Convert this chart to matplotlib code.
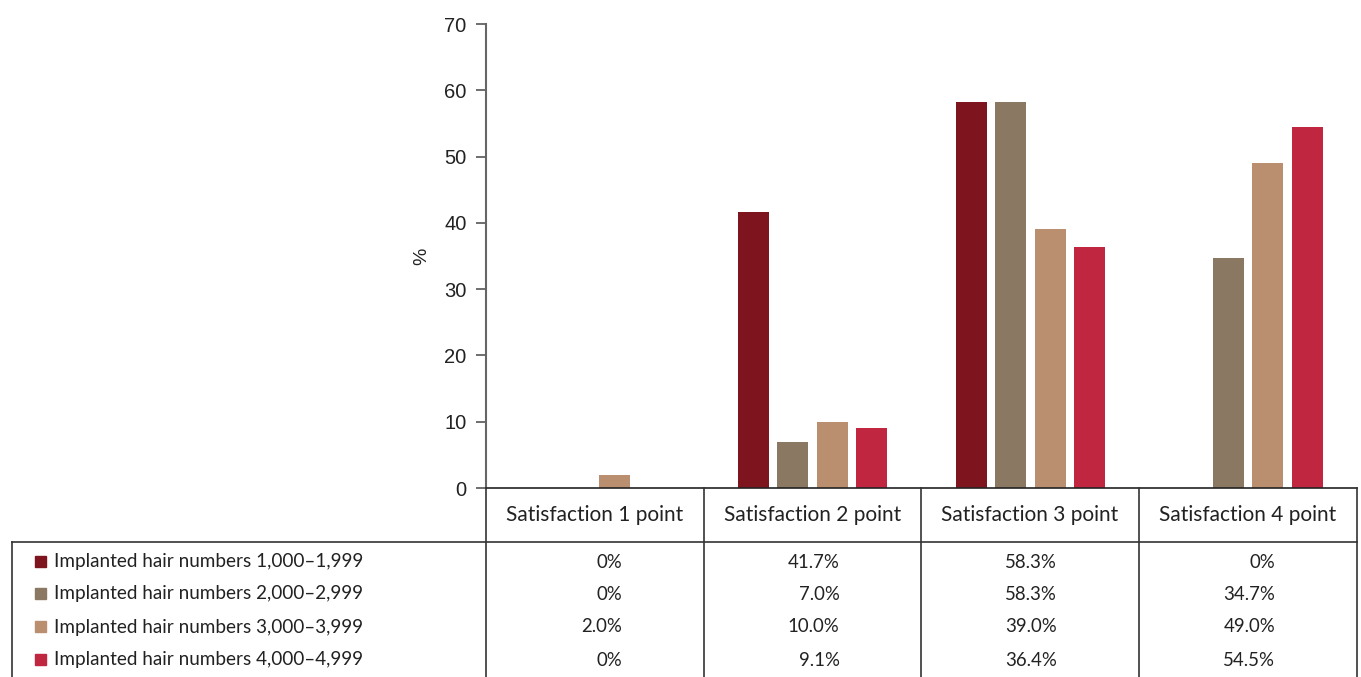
import numpy as np
import matplotlib.pyplot as plt
from matplotlib.lines import Line2D
from matplotlib.patches import Rectangle

# data
categories = ["Satisfaction 1 point", "Satisfaction 2 point",
              "Satisfaction 3 point", "Satisfaction 4 point"]
series_names = ["Implanted hair numbers 1,000\u20131,999",
                "Implanted hair numbers 2,000\u20132,999",
                "Implanted hair numbers 3,000\u20133,999",
                "Implanted hair numbers 4,000\u20134,999"]
hair_1000 = [0, 41.7, 58.3, 0]
hair_2000 = [0, 7.0, 58.3, 34.7]
hair_3000 = [2.0, 10.0, 39.0, 49.0]
hair_4000 = [0, 9.1, 36.4, 54.5]
values = [hair_1000, hair_2000, hair_3000, hair_4000]
labels = [["0%", "41.7%", "58.3%", "0%"],
          ["0%", "7.0%", "58.3%", "34.7%"],
          ["2.0%", "10.0%", "39.0%", "49.0%"],
          ["0%", "9.1%", "36.4%", "54.5%"]]
colors = ["#7e141e", "#8a7862", "#b98f70", "#c0263f"]

W, H = 1361, 677
fig = plt.figure(figsize=(W / 100, H / 100), dpi=100)

def fx(px):
    return px / W

def fy(py):
    return 1 - py / H

left, right, top, bottom = 486, 1357, 24, 488
ax = fig.add_axes([fx(left), fy(bottom), fx(right - left), (bottom - top) / H])

x = np.arange(len(categories))
width = 0.143
step = 0.181
for i, vals in enumerate(values):
    ax.bar(x + (i - 1.5) * step, vals, width, color=colors[i], zorder=2)

ax.set_xlim(-0.5, 3.5)
ax.set_ylim(0, 70)
ax.set_yticks(range(0, 71, 10))
ax.set_xticks([])
for s in ["top", "right"]:
    ax.spines[s].set_visible(False)
ax.spines["left"].set_color("#666666")
ax.spines["left"].set_linewidth(1.5)
ax.spines["bottom"].set_color("#222222")
ax.spines["bottom"].set_linewidth(1.2)
ax.tick_params(axis="y", length=7, width=1.2, color="#555555", pad=7,
               labelsize=14.5, labelcolor="#222222")
for t in ax.get_yticklabels():
    t.set_fontfamily("Liberation Sans")
ax.set_ylabel("%", fontsize=14, fontfamily="Liberation Sans", color="#222222",
              labelpad=10)

# table
lc = "#333333"
col_edges = [486, 704, 921, 1139, 1357]
fig.add_artist(Line2D([fx(12), fx(1357)], [fy(542), fy(542)], color=lc, lw=1.2))
fig.add_artist(Line2D([fx(12), fx(12)], [fy(542), fy(677)], color=lc, lw=1.2))
for e in col_edges:
    fig.add_artist(Line2D([fx(e), fx(e)], [fy(488), fy(677)], color=lc, lw=1.2))

tfont = "Lato"
for j, c in enumerate(categories):
    cx = (col_edges[j] + col_edges[j + 1]) / 2
    fig.text(fx(cx), fy(515), c, ha="center", va="center", fontsize=15,
             fontfamily=tfont, color="#222222")

row_y = [562, 594, 627, 660]
for i, name in enumerate(series_names):
    fig.add_artist(Rectangle((fx(35), fy(row_y[i] + 5)), fx(11), 11 / H,
                             color=colors[i]))
    fig.text(fx(54), fy(row_y[i]), name, ha="left", va="center", fontsize=13.6,
             fontfamily=tfont, color="#222222")
    for j in range(len(categories)):
        cx = (col_edges[j] + col_edges[j + 1]) / 2
        fig.text(fx(cx + 27), fy(row_y[i]), labels[i][j], ha="right",
                 va="center", fontsize=13.4, fontfamily=tfont, color="#222222")

fig.savefig("out.png", dpi=100)
